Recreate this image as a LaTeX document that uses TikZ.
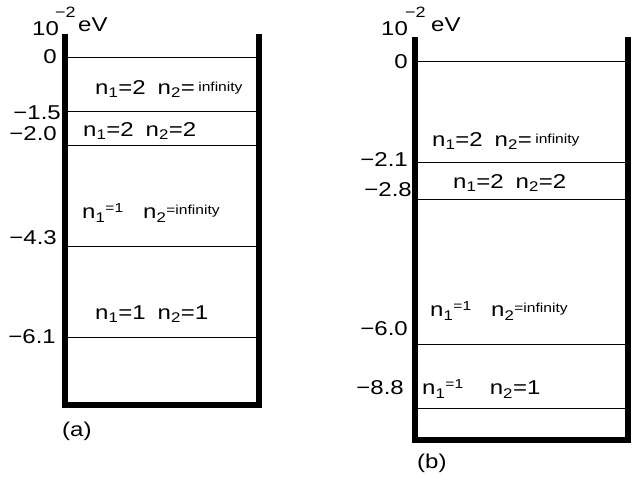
\documentclass[tikz,border=0pt]{standalone}
\usepackage{fontspec}
\setmainfont[FakeStretch=1.2]{Liberation Sans}
\newcommand\upsmall[2]{\raisebox{#1}{\fontsize{13}{15}\selectfont #2}}

\begin{document}
\begin{tikzpicture}[x=1pt, y=-1pt, every node/.style={font=\fontsize{20}{22}\selectfont, inner sep=0pt}, wall/.style={line width=6pt, line join=miter}, level/.style={line width=0.8pt}, val/.style={anchor=east}, lab/.style={anchor=west}]
	\useasboundingbox (0,0) rectangle (644,487);
	% (a)
	\node[lab] (ua10) at (32,29) {10};
	\node[lab, font=\fontsize{15}{17}\selectfont] (uaexp) at (55,12) {−2};
	\node[lab] (uaev) at (78,25) {eV};
	\draw[wall] (65,34) -- (65,405) -- (259,405) -- (259,34);
	\draw[level] (68,57) -- (256,57);
	\draw[level] (68,111) -- (256,111);
	\draw[level] (68,145) -- (256,145);
	\draw[level] (68,246) -- (256,246);
	\draw[level] (68,337) -- (256,337);
	\node[val] (a0) at (57,57) {0};
	\node[val] (a1) at (61,113) {−1.5};
	\node[val] (a2) at (57,134) {−2.0};
	\node[val] (a3) at (57,238) {−4.3};
	\node[val] (a4) at (56,337) {−6.1};
	\node[lab] (ta1) at (95,89) {n\textsubscript{1}=2\hspace{12pt}n\textsubscript{2}=\,\upsmall{3pt}{infinity}};
	\node[lab] (ta2) at (83,131) {n\textsubscript{1}=2\hspace{12pt}n\textsubscript{2}=2};
	\node[lab] (ta3) at (82,213) {n\textsubscript{1}\upsmall{6pt}{=1}\quad n\textsubscript{2}\upsmall{4pt}{=infinity}};
	\node[lab] (ta4) at (95,314) {n\textsubscript{1}=1\hspace{12pt}n\textsubscript{2}=1};
	\node[lab] (capa) at (62,431) {(a)};
	% (b)
	\node[lab] (ub10) at (381,29) {10};
	\node[lab, font=\fontsize{15}{17}\selectfont] (ubexp) at (405,12) {−2};
	\node[lab] (ubev) at (431,25) {eV};
	\draw[wall] (415,37) -- (415,440) -- (628,440) -- (628,37);
	\draw[level] (418,61) -- (625,61);
	\draw[level] (418,162) -- (625,162);
	\draw[level] (418,199) -- (625,199);
	\draw[level] (418,344) -- (625,344);
	\draw[level] (418,408) -- (625,408);
	\node[val] (b0) at (408,62) {0};
	\node[val] (b1) at (408,160) {−2.1};
	\node[val] (b2) at (412,190) {−2.8};
	\node[val] (b3) at (408,329) {−6.0};
	\node[val] (b4) at (404,388) {−8.8};
	\node[lab] (tb1) at (432,141) {n\textsubscript{1}=2\hspace{12pt}n\textsubscript{2}=\,\upsmall{3pt}{infinity}};
	\node[lab] (tb2) at (453,183) {n\textsubscript{1}=2\hspace{12pt}n\textsubscript{2}=2};
	\node[lab] (tb3) at (430,311) {n\textsubscript{1}\upsmall{6pt}{=1}\quad n\textsubscript{2}\upsmall{4pt}{=infinity}};
	\node[lab] (tb4) at (422,389) {n\textsubscript{1}\upsmall{6pt}{=1}\quad\ n\textsubscript{2}=1};
	\node[lab] (capb) at (417,463) {(b)};
\end{tikzpicture}
\end{document}
